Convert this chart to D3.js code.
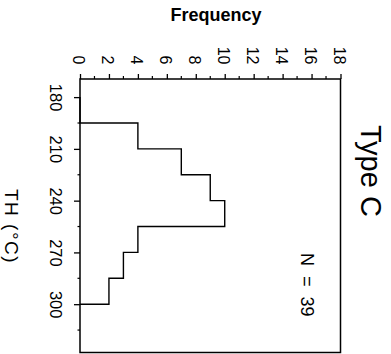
<!DOCTYPE html>
<html>
<head>
<meta charset="utf-8">
<script src="https://cdn.jsdelivr.net/npm/d3@7"></script>
<style>
  html, body { margin: 0; padding: 0; background: #fff; }
  svg { display: block; }
  text { font-family: "Liberation Sans", Arial, Helvetica, sans-serif; fill: #000; }
</style>
</head>
<body>
<svg id="chart" width="391" height="354"></svg>
<script>
// ---- data ----
const binEdges = [180, 195, 210, 225, 240, 255, 270, 285, 300];
const counts = [0, 4, 7, 9, 10, 4, 3, 2];
const freqTicks = [0, 2, 4, 6, 8, 10, 12, 14, 16, 18];
const freqMinorTicks = [1, 3, 5, 7, 9, 11, 13, 15, 17];
const tempTicks = [180, 210, 240, 270, 300];
const tempMinorTicks = [195, 225, 255, 285, 315];
const titleText = "Type C";
const nText = "N  =  39";
const freqLabel = "Frequency";
const tempLabel = "TH (°C)";

// ---- layout ----
const pLeft = 80, pRight = 340.5, pTop = 79, pBottom = 352.5;
const svg = d3.select("#chart");
svg.append("rect").attr("width", 391).attr("height", 354).attr("fill", "#fff");

const x = d3.scaleLinear().domain([0, 18]).range([pLeft, pRight]);
const y = d3.scaleLinear().domain([169.5, 328]).range([pTop, pBottom]);

// frequency axis (top)
const gx = svg.append("g").attr("transform", `translate(0,${pTop})`)
  .call(d3.axisTop(x).tickValues(freqTicks).tickSize(5).tickSizeOuter(0));
gx.select(".domain").remove();
gx.selectAll(".tick line").attr("stroke", "#000").attr("stroke-width", 1.3);
gx.selectAll(".tick text")
  .attr("x", null).attr("y", null).attr("dy", null)
  .attr("fill", "#000")
  .attr("text-anchor", "end")
  .attr("transform", "translate(-7.5,-14.5) rotate(90)")
  .style("font-size", "16px")
  .style("font-family", "'Liberation Sans', Arial, sans-serif");
svg.append("g").selectAll("line").data(freqMinorTicks).join("line")
  .attr("x1", d => x(d)).attr("x2", d => x(d))
  .attr("y1", pTop).attr("y2", pTop - 3)
  .attr("stroke", "#000").attr("stroke-width", 1.2);

// temperature axis (left)
const gy = svg.append("g").attr("transform", `translate(${pLeft},0)`)
  .call(d3.axisLeft(y).tickValues(tempTicks).tickSize(6).tickSizeOuter(0));
gy.select(".domain").remove();
gy.selectAll(".tick line").attr("stroke", "#000").attr("stroke-width", 1.3);
gy.selectAll(".tick text")
  .attr("x", null).attr("y", null).attr("dy", null)
  .attr("fill", "#000")
  .attr("text-anchor", "middle")
  .attr("transform", "translate(-30,0) rotate(90)")
  .style("font-size", "16.5px")
  .style("font-family", "'Liberation Sans', Arial, sans-serif");
svg.append("g").selectAll("line").data(tempMinorTicks).join("line")
  .attr("x1", pLeft).attr("x2", pLeft - 2.5)
  .attr("y1", d => y(d)).attr("y2", d => y(d))
  .attr("stroke", "#000").attr("stroke-width", 1.2);

// frame
svg.append("rect")
  .attr("x", pLeft).attr("y", pTop)
  .attr("width", pRight - pLeft).attr("height", pBottom - pTop)
  .attr("fill", "none").attr("stroke", "#000").attr("stroke-width", 1.5);

// histogram outline
const pts = [];
counts.forEach((c, i) => {
  pts.push([c, binEdges[i]]);
  pts.push([c, binEdges[i + 1]]);
});
pts.push([0, binEdges[binEdges.length - 1]]);
svg.append("path")
  .datum(pts)
  .attr("d", d3.line().x(d => x(d[0])).y(d => y(d[1])))
  .attr("fill", "none").attr("stroke", "#000").attr("stroke-width", 1.4);

// texts
svg.append("text")
  .attr("x", 216).attr("y", 21)
  .attr("text-anchor", "middle")
  .style("font-size", "18px").style("font-weight", "bold")
  .text(freqLabel);

svg.append("text")
  .attr("transform", "translate(361,125) rotate(90)")
  .attr("text-anchor", "start")
  .style("font-size", "29px")
  .text(titleText);

svg.append("text")
  .attr("transform", "translate(300.5,253) rotate(90)")
  .attr("text-anchor", "start")
  .style("font-size", "18px")
  .style("white-space", "pre")
  .text(nText);

svg.append("text")
  .attr("transform", "translate(4.5,189) rotate(90)")
  .attr("text-anchor", "start")
  .style("font-size", "19px")
  .style("letter-spacing", "1.5px")
  .text(tempLabel);
</script>
</body>
</html>
